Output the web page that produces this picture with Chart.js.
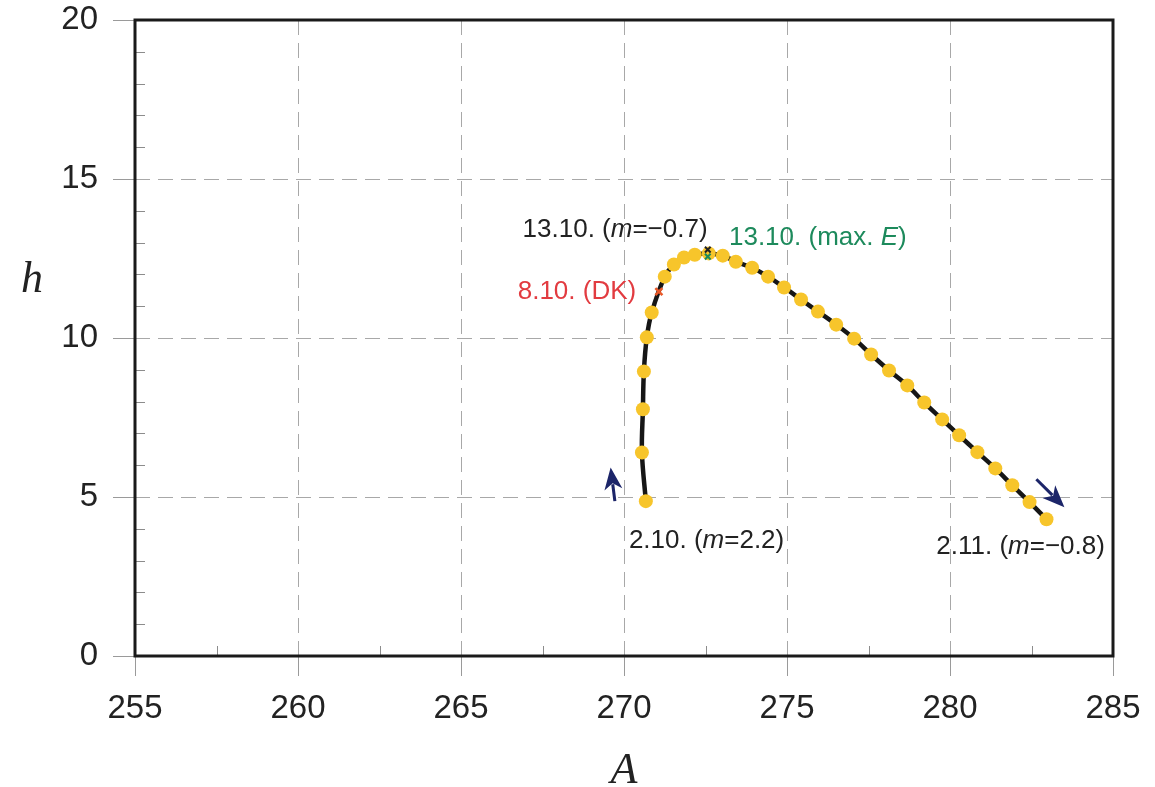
<!DOCTYPE html>
<html><head><meta charset="utf-8">
<script src="https://cdn.jsdelivr.net/npm/chart.js@4.4.1/dist/chart.umd.min.js"></script>
<style>html,body{margin:0;padding:0;background:#fff}</style>
</head><body>
<canvas id="c" width="1155" height="787"></canvas>
<script>
// ---- data ----
const pathA = [270.67, 270.55, 270.58, 270.61, 270.70, 270.85, 271.25, 271.53, 271.84, 272.17, 272.60,
  273.03, 273.43, 273.93, 274.42, 274.91, 275.43, 275.95, 276.51, 277.06, 277.58, 278.13, 278.69,
  279.21, 279.76, 280.28, 280.84, 281.39, 281.91, 282.44, 282.96];
const pathH = [4.87, 6.40, 7.76, 8.95, 10.02, 10.80, 11.93, 12.31, 12.53, 12.62, 12.66,
  12.59, 12.40, 12.21, 11.93, 11.59, 11.21, 10.83, 10.42, 9.98, 9.48, 8.98, 8.51,
  7.97, 7.44, 6.94, 6.41, 5.90, 5.37, 4.84, 4.30];

const dkMarkA = [271.07], dkMarkH = [11.46];
const mMarkA = [272.57], mMarkH = [12.78];
const eMarkA = [272.57], eMarkH = [12.56];

const xTicks = [255, 260, 265, 270, 275, 280, 285];
const yTicks = [0, 5, 10, 15, 20];
const xMinor = [257.5, 262.5, 267.5, 272.5, 277.5, 282.5];
const yMinor = [1, 2, 3, 4, 6, 7, 8, 9, 11, 12, 13, 14, 16, 17, 18, 19];

const labelTexts = [
  [['13.10. (', false], ['m', true], ['=\u22120.7)', false]],
  [['13.10. (max. ', false], ['E', true], [')', false]],
  [['8.10. (DK)', false]],
  [['2.10. (', false], ['m', true], ['=2.2)', false]],
  [['2.11. (', false], ['m', true], ['=\u22120.8)', false]]
];
const labelA = [266.89, 273.22, 266.74, 270.15, 279.58];
const labelH = [13.41, 13.16, 11.46, 3.61, 3.42];
const labelColors = ['#222222', '#1d8a5c', '#e23b40', '#222222', '#222222'];

const arrowTailA = [269.72, 282.65], arrowTailH = [4.87, 5.56];
const arrowTipA = [269.59, 283.51], arrowTipH = [5.93, 4.68];

const yTitle = 'h';

const zip = (a, b) => a.map((v, i) => ({x: v, y: b[i]}));

const deco = {
  id: 'deco',
  afterDatasetsDraw(chart) {
    const {ctx, chartArea: ca, scales: {x, y}} = chart;
    ctx.save();
    // minor ticks inside
    ctx.strokeStyle = '#8c8c8c'; ctx.lineWidth = 1;
    yMinor.forEach(v => { const p = Math.round(y.getPixelForValue(v)) + 0.5;
      ctx.beginPath(); ctx.moveTo(ca.left, p); ctx.lineTo(ca.left + 10, p); ctx.stroke(); });
    xMinor.forEach(v => { const p = Math.round(x.getPixelForValue(v)) + 0.5;
      ctx.beginPath(); ctx.moveTo(p, ca.bottom); ctx.lineTo(p, ca.bottom - 10); ctx.stroke(); });
    // frame
    ctx.strokeStyle = '#1a1a1a'; ctx.lineWidth = 3;
    ctx.strokeRect(ca.left, ca.top, ca.right - ca.left, ca.bottom - ca.top);
    // arrows
    ctx.strokeStyle = '#1c2569'; ctx.fillStyle = '#1c2569'; ctx.lineWidth = 3;
    for (let i = 0; i < arrowTailA.length; i++) {
      const x0 = x.getPixelForValue(arrowTailA[i]), y0 = y.getPixelForValue(arrowTailH[i]);
      const x1 = x.getPixelForValue(arrowTipA[i]), y1 = y.getPixelForValue(arrowTipH[i]);
      const ang = Math.atan2(y1 - y0, x1 - x0), L = 22, W = 9;
      const bx = x1 - L * Math.cos(ang), by = y1 - L * Math.sin(ang);
      ctx.beginPath(); ctx.moveTo(x0, y0); ctx.lineTo(bx + 5 * Math.cos(ang), by + 5 * Math.sin(ang)); ctx.stroke();
      ctx.beginPath(); ctx.moveTo(x1, y1);
      ctx.lineTo(bx - W * Math.sin(ang), by + W * Math.cos(ang));
      ctx.lineTo(bx + 6 * Math.cos(ang), by + 6 * Math.sin(ang));
      ctx.lineTo(bx + W * Math.sin(ang), by - W * Math.cos(ang));
      ctx.closePath(); ctx.fill();
    }
    // annotation labels
    ctx.textBaseline = 'middle'; ctx.textAlign = 'left';
    labelTexts.forEach((segs, i) => {
      let px = x.getPixelForValue(labelA[i]); const py = y.getPixelForValue(labelH[i]);
      ctx.fillStyle = labelColors[i];
      segs.forEach(([t, it]) => {
        ctx.font = (it ? 'italic ' : '') + '26px "Liberation Sans", Arial, sans-serif';
        ctx.fillText(t, px, py); px += ctx.measureText(t).width;
      });
    });
    // upright y-axis title
    ctx.fillStyle = '#222';
    ctx.font = 'italic 44px "Liberation Serif", "DejaVu Serif", serif';
    ctx.textAlign = 'center'; ctx.textBaseline = 'alphabetic';
    ctx.fillText(yTitle, 32, 292);
    ctx.restore();
  }
};

new Chart(document.getElementById('c'), {
  type: 'scatter',
  data: { datasets: [
    { data: zip(pathA, pathH), showLine: true, tension: 0.35, borderColor: '#161616', borderWidth: 4.5,
      pointRadius: 7, pointBackgroundColor: '#f7c52b', pointBorderWidth: 0, order: 3 },
    { data: zip(dkMarkA, dkMarkH), pointStyle: 'crossRot', pointRadius: 5, borderColor: '#e8592a', borderWidth: 2.5, order: 1 },
    { data: zip(mMarkA, mMarkH), pointStyle: 'crossRot', pointRadius: 4, borderColor: '#222', borderWidth: 2, order: 1 },
    { data: zip(eMarkA, eMarkH), pointStyle: 'crossRot', pointRadius: 4, borderColor: '#1d8a5c', borderWidth: 2, order: 1 }
  ]},
  options: {
    responsive: false, animation: false, devicePixelRatio: 1,
    layout: { padding: { top: 20, right: 42, left: 0, bottom: 0 } },
    plugins: { legend: { display: false }, tooltip: { enabled: false } },
    scales: {
      x: {
        type: 'linear', min: 255, max: 285,
        afterBuildTicks: s => { s.ticks = xTicks.map(v => ({value: v})); },
        afterFit: s => { s.height = 131; },
        grid: { color: '#a8a8a8', lineWidth: 1, drawTicks: true, tickLength: 20, tickColor: '#9a9a9a', tickWidth: 1 },
        border: { display: false, dash: [15, 8] },
        ticks: { color: '#222', font: { size: 33, family: '"Liberation Sans", Arial, sans-serif' }, padding: 13, maxRotation: 0 },
        title: { display: true, text: 'A', color: '#222', font: { size: 44, style: 'italic', lineHeight: 0.7, family: '"Liberation Serif", "DejaVu Serif", serif' }, padding: { top: 0, bottom: 0 } }
      },
      y: {
        type: 'linear', min: 0, max: 20,
        afterBuildTicks: s => { s.ticks = yTicks.map(v => ({value: v})); },
        afterFit: s => { s.width = 135; s.paddingTop = 0; s.paddingBottom = 0; },
        grid: { color: '#a8a8a8', lineWidth: 1, drawTicks: true, tickLength: 22, tickColor: '#9a9a9a', tickWidth: 1 },
        border: { display: false, dash: [15, 8] },
        ticks: { color: '#222', font: { size: 33, lineHeight: 0.6, family: '"Liberation Sans", Arial, sans-serif' }, padding: 15 },
        title: { display: false }
      }
    }
  },
  plugins: [deco]
});
</script>
</body></html>
